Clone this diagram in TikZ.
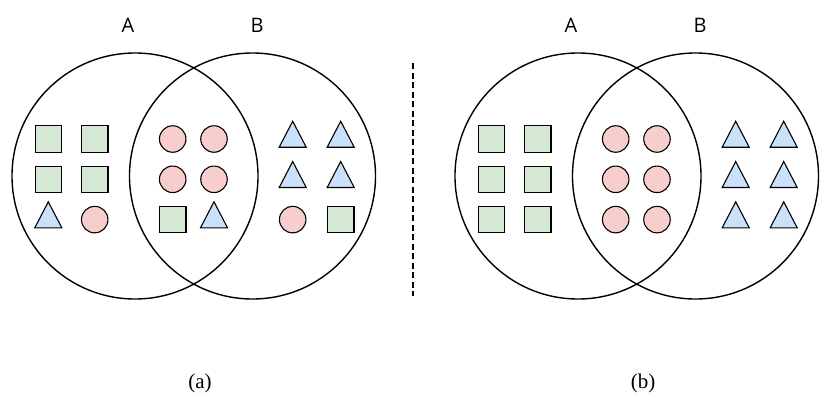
\documentclass[tikz,border=0pt]{standalone}
\usepackage{fontspec}
\setmainfont{Liberation Serif}
\newfontfamily\setfont{Open Sans}
\usepackage{tikz}
\usetikzlibrary{shapes.geometric}
\definecolor{leaf}{HTML}{D5E8D4}
\definecolor{rose}{HTML}{F8CECC}
\definecolor{sky}{HTML}{C9E2FA}
\definecolor{ink}{HTML}{000000}
\tikzset{
  venn/.style={circle,draw=ink,line width=1.4pt,minimum size=246pt,inner sep=0pt},
  setlbl/.style={font=\setfont\fontsize{20}{24}\selectfont,inner sep=0pt},
  sublbl/.style={font=\fontsize{21}{25}\selectfont,inner sep=0pt},
  sq/.style={rectangle,draw=ink,line width=1.1pt,fill=leaf,minimum size=26.5pt,inner sep=0pt},
  ci/.style={circle,draw=ink,line width=1.1pt,fill=rose,minimum size=26.5pt,inner sep=0pt},
  tri/.style={isosceles triangle,shape border rotate=90,isosceles triangle stretches,
    draw=ink,line width=1.1pt,fill=sky,minimum width=27pt,minimum height=26pt,inner sep=0pt},
}
\begin{document}
\begin{tikzpicture}[x=1pt,y=-1pt]
  \useasboundingbox (0,0) rectangle (831,413);
  \foreach \dx/\p/\cells in {
      0/a/{sq,sq,ci,ci,tri,tri,sq,sq,ci,ci,tri,tri,tri,ci,sq,tri,ci,sq},
      443/b/{sq,sq,ci,ci,tri,tri,sq,sq,ci,ci,tri,tri,sq,sq,ci,ci,tri,tri}} {
    \node[venn] (\p-A) at (135+\dx,176) {};
    \node[venn] (\p-B) at (252.5+\dx,176) {};
    \node[setlbl] (\p-lA) at (128+\dx,25) {A};
    \node[setlbl] (\p-lB) at (257+\dx,25) {B};
    \node[sublbl] (\p-cap) at (200+\dx,383.5) {(\p)};
    % shapes, six per row
    \foreach \s [count=\k from 0] in \cells {
      \pgfmathtruncatemacro\c{mod(\k,6)}
      \pgfmathtruncatemacro\r{int(\k/6)}
      \pgfmathsetmacro\cx{{48.3,94.7,172.7,214,292.7,340.7}[\c]+\dx}
      \pgfmathsetmacro\cy{139+40.3*\r}
      \node[\s] (\p-\k) at (\cx,\cy) {};
    }
  }
  \coordinate (top) at (413,63);
  \coordinate (bot) at (413,296);
  \draw[ink,line width=1.6pt,dash pattern=on 6pt off 3.5pt] (top) -- (bot);
\end{tikzpicture}
\end{document}
